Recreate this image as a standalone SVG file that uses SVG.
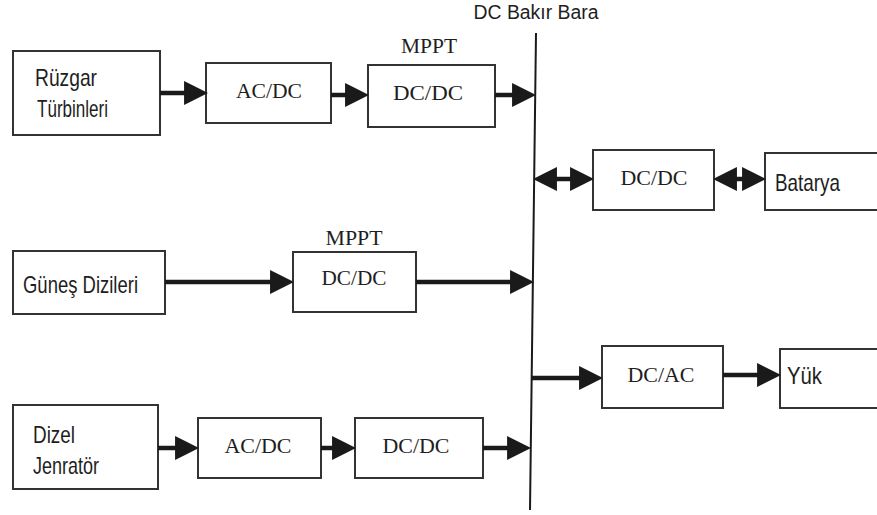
<svg xmlns="http://www.w3.org/2000/svg" width="877" height="515" viewBox="0 0 877 515">
  <style>
    .box { fill: #ffffff; stroke: #333333; stroke-width: 2; }
    .sans { font-family: "Liberation Sans", Arial, sans-serif; font-size: 24px; fill: #1e1e1e; }
    .title { font-size: 20px; }
    .serif { font-family: "Liberation Serif", "Times New Roman", serif; font-size: 22px; fill: #1e1e1e; }
    .wire { stroke: #1a1a1a; stroke-width: 4.5; fill: none; }
    .bus { stroke: #1a1a1a; stroke-width: 2; }
  </style>
  <defs>
    <marker id="head" markerUnits="userSpaceOnUse" markerWidth="24" markerHeight="24" viewBox="0 0 22 22" refX="10" refY="11" orient="auto-start-reverse">
      <path d="M0,0 L22,11 L0,22 Z" fill="#1a1a1a"/>
    </marker>
  </defs>

  <!-- DC copper bus bar -->
  <g id="bus">
    <line class="bus" x1="536" y1="33" x2="530" y2="510"/>
    <text class="sans title" x="536" y="19" text-anchor="middle" textLength="125" lengthAdjust="spacingAndGlyphs">DC Bakır Bara</text>
  </g>

  <!-- wind branch -->
  <g id="ruzgar">
    <rect class="box" x="13" y="51" width="147" height="84"/>
    <text class="sans" x="35" y="86" textLength="62" lengthAdjust="spacingAndGlyphs">Rüzgar</text>
    <text class="sans" x="37" y="117" textLength="71" lengthAdjust="spacingAndGlyphs">Türbinleri</text>
  </g>
  <g id="ruzgar-acdc">
    <rect class="box" x="206" y="63" width="125" height="60"/>
    <text class="serif" x="269" y="98" text-anchor="middle" textLength="66" lengthAdjust="spacingAndGlyphs">AC/DC</text>
  </g>
  <g id="ruzgar-dcdc">
    <rect class="box" x="368" y="65" width="127" height="62"/>
    <text class="serif" x="429" y="53" text-anchor="middle" textLength="56" lengthAdjust="spacingAndGlyphs">MPPT</text>
    <text class="serif" x="428" y="100" text-anchor="middle" textLength="70" lengthAdjust="spacingAndGlyphs">DC/DC</text>
  </g>

  <!-- battery branch -->
  <g id="batarya-dcdc">
    <rect class="box" x="593" y="150" width="121" height="60"/>
    <text class="serif" x="654" y="185" text-anchor="middle" textLength="67" lengthAdjust="spacingAndGlyphs">DC/DC</text>
  </g>
  <g id="batarya">
    <rect class="box" x="765" y="153" width="120" height="57"/>
    <text class="sans" x="775" y="191" textLength="65" lengthAdjust="spacingAndGlyphs">Batarya</text>
  </g>

  <!-- solar branch -->
  <g id="gunes">
    <rect class="box" x="13" y="251" width="152" height="63"/>
    <text class="sans" x="23" y="293" textLength="115" lengthAdjust="spacingAndGlyphs">Güneş Dizileri</text>
  </g>
  <g id="gunes-dcdc">
    <rect class="box" x="293" y="252" width="123" height="60"/>
    <text class="serif" x="354" y="245" text-anchor="middle" textLength="57" lengthAdjust="spacingAndGlyphs">MPPT</text>
    <text class="serif" x="354" y="285" text-anchor="middle" textLength="65" lengthAdjust="spacingAndGlyphs">DC/DC</text>
  </g>

  <!-- load branch -->
  <g id="yuk-dcac">
    <rect class="box" x="602" y="346" width="121" height="62"/>
    <text class="serif" x="661" y="382" text-anchor="middle" textLength="67" lengthAdjust="spacingAndGlyphs">DC/AC</text>
  </g>
  <g id="yuk">
    <rect class="box" x="780" y="349" width="105" height="59"/>
    <text class="sans" x="787" y="384" textLength="35" lengthAdjust="spacingAndGlyphs">Yük</text>
  </g>

  <!-- diesel branch -->
  <g id="dizel">
    <rect class="box" x="13" y="405" width="145" height="84"/>
    <text class="sans" x="33" y="443" textLength="42" lengthAdjust="spacingAndGlyphs">Dizel</text>
    <text class="sans" x="33" y="474" textLength="66" lengthAdjust="spacingAndGlyphs">Jenratör</text>
  </g>
  <g id="dizel-acdc">
    <rect class="box" x="198" y="418" width="123" height="60"/>
    <text class="serif" x="258" y="453" text-anchor="middle" textLength="67" lengthAdjust="spacingAndGlyphs">AC/DC</text>
  </g>
  <g id="dizel-dcdc">
    <rect class="box" x="355" y="418" width="128" height="60"/>
    <text class="serif" x="416" y="453" text-anchor="middle" textLength="67" lengthAdjust="spacingAndGlyphs">DC/DC</text>
  </g>

  <!-- connectors: each line stops 12px short of the arrow tip -->
  <g id="connectors">
    <line class="wire" x1="160" y1="93" x2="195" y2="93" marker-end="url(#head)"/>
    <line class="wire" x1="331" y1="95" x2="356" y2="95" marker-end="url(#head)"/>
    <line class="wire" x1="495" y1="95" x2="523" y2="95" marker-end="url(#head)"/>
    <line class="wire" x1="546" y1="179" x2="581" y2="179" marker-start="url(#head)" marker-end="url(#head)"/>
    <line class="wire" x1="726" y1="179" x2="753" y2="179" marker-start="url(#head)" marker-end="url(#head)"/>
    <line class="wire" x1="165" y1="282" x2="281" y2="282" marker-end="url(#head)"/>
    <line class="wire" x1="416" y1="282" x2="521" y2="282" marker-end="url(#head)"/>
    <line class="wire" x1="532" y1="378" x2="590" y2="378" marker-end="url(#head)"/>
    <line class="wire" x1="723" y1="375" x2="768" y2="375" marker-end="url(#head)"/>
    <line class="wire" x1="158" y1="448" x2="186" y2="448" marker-end="url(#head)"/>
    <line class="wire" x1="321" y1="448" x2="343" y2="448" marker-end="url(#head)"/>
    <line class="wire" x1="483" y1="448" x2="518" y2="448" marker-end="url(#head)"/>
  </g>
</svg>
